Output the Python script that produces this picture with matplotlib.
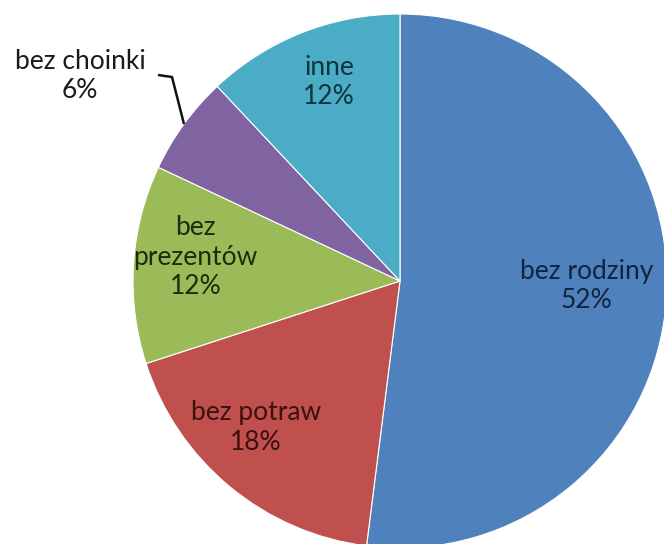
import numpy as np
import matplotlib
matplotlib.use('Agg')
import matplotlib.pyplot as plt

labels = ['bez rodziny', 'bez potraw', 'bez\nprezentów', 'bez choinki', 'inne']
shares = [52, 18, 12, 6, 12]
colors = ['#4f81bd', '#c0504d', '#9bbb59', '#8064a2', '#4bacc6']
text_colors = ['#10243f', '#3b1110', '#202a0c', '#1a1a1a', '#0e3440']

plt.rcParams['font.family'] = ['Lato', 'DejaVu Sans']

fig = plt.figure(figsize=(6.64, 5.44), dpi=100)
ax = fig.add_axes([0, 0, 1, 1])

# pie center / radius in pixels of the original picture
cx, cy, R = 400, 281, 267

wedges, _ = ax.pie(shares, colors=colors, startangle=90, counterclock=False,
                   radius=1.0, center=(0, 0),
                   wedgeprops=dict(edgecolor='white', linewidth=0.8))
ax.set_xlim(-cx / R, (664 - cx) / R)
ax.set_ylim(-(544 - cy) / R, cy / R)
ax.set_aspect('equal')
ax.axis('off')

# label placement: radius fraction and angle tweak (deg) per wedge
label_r = [0.70, 0.77, 0.77, None, 0.79]
label_da = [2, -5, -3, 0, -2]
fs = 19
ls = 1.22
for w, lab, val, r, da, tc in zip(wedges, labels, shares, label_r, label_da,
                                  text_colors):
    mid = np.deg2rad((w.theta1 + w.theta2) / 2 + da)
    if r is None:
        # outside label with leader line
        ex, ey = np.cos(mid), np.sin(mid)
        bx, by = (172 - cx) / R, (cy - 77) / R
        tx, ty = (158 - cx) / R, (cy - 75) / R
        ax.plot([ex, bx, tx], [ey, by, ty], color='#111111', lw=1.8,
                solid_capstyle='butt')
        ax.text((80 - cx) / R, (cy - 76) / R, f'{lab}\n{val}%', ha='center',
                va='center', fontsize=fs, color=tc, linespacing=ls)
        continue
    ax.text(r * np.cos(mid), r * np.sin(mid), f'{lab}\n{val}%', ha='center',
            va='center', fontsize=fs, color=tc, linespacing=ls)

plt.savefig('out.png', dpi=100)
